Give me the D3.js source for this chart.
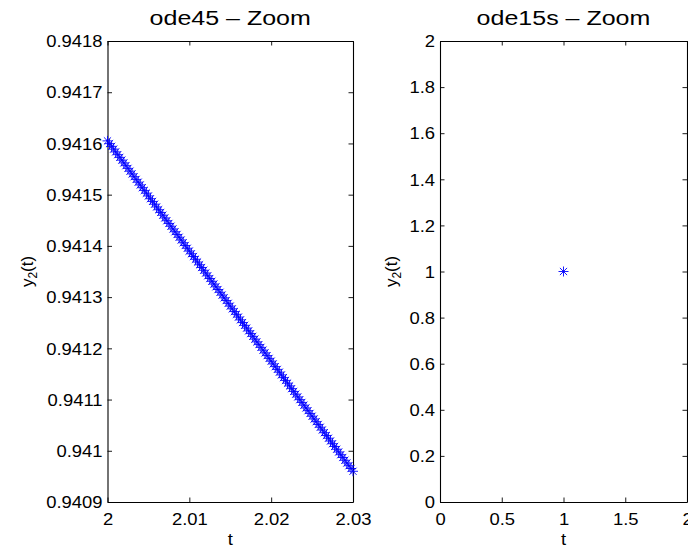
<!DOCTYPE html>
<html>
<head>
<meta charset="utf-8">
<script src="https://cdn.jsdelivr.net/npm/d3@7"></script>
<style>
  body { margin: 0; background: #fff; }
  svg { font-family: "Liberation Sans", Arial, sans-serif; }
</style>
</head>
<body>
<div id="chart"></div>
<script>
// region Data
const t45 = [
    2.00000, 2.00025, 2.00050, 2.00075, 2.00100, 2.00125, 2.00150, 2.00175, 2.00200, 2.00225,
    2.00250, 2.00275, 2.00300, 2.00325, 2.00350, 2.00375, 2.00400, 2.00425, 2.00450, 2.00475,
    2.00500, 2.00525, 2.00550, 2.00575, 2.00600, 2.00625, 2.00650, 2.00675, 2.00700, 2.00725,
    2.00750, 2.00775, 2.00800, 2.00825, 2.00850, 2.00875, 2.00900, 2.00925, 2.00950, 2.00975,
    2.01000, 2.01025, 2.01050, 2.01075, 2.01100, 2.01125, 2.01150, 2.01175, 2.01200, 2.01225,
    2.01250, 2.01275, 2.01300, 2.01325, 2.01350, 2.01375, 2.01400, 2.01425, 2.01450, 2.01475,
    2.01500, 2.01525, 2.01550, 2.01575, 2.01600, 2.01625, 2.01650, 2.01675, 2.01700, 2.01725,
    2.01750, 2.01775, 2.01800, 2.01825, 2.01850, 2.01875, 2.01900, 2.01925, 2.01950, 2.01975,
    2.02000, 2.02025, 2.02050, 2.02075, 2.02100, 2.02125, 2.02150, 2.02175, 2.02200, 2.02225,
    2.02250, 2.02275, 2.02300, 2.02325, 2.02350, 2.02375, 2.02400, 2.02425, 2.02450, 2.02475,
    2.02500, 2.02525, 2.02550, 2.02575, 2.02600, 2.02625, 2.02650, 2.02675, 2.02700, 2.02725,
    2.02750, 2.02775, 2.02800, 2.02825, 2.02850, 2.02875, 2.02900, 2.02925, 2.02950, 2.02975,
    2.03000
];
const y45 = [
    0.9416050, 0.9415996, 0.9415943, 0.9415889, 0.9415835, 0.9415781, 0.9415728, 0.9415674, 0.9415620, 0.9415566,
    0.9415513, 0.9415459, 0.9415405, 0.9415351, 0.9415298, 0.9415244, 0.9415190, 0.9415136, 0.9415083, 0.9415029,
    0.9414975, 0.9414921, 0.9414868, 0.9414814, 0.9414760, 0.9414706, 0.9414653, 0.9414599, 0.9414545, 0.9414491,
    0.9414438, 0.9414384, 0.9414330, 0.9414276, 0.9414223, 0.9414169, 0.9414115, 0.9414061, 0.9414008, 0.9413954,
    0.9413900, 0.9413846, 0.9413793, 0.9413739, 0.9413685, 0.9413631, 0.9413578, 0.9413524, 0.9413470, 0.9413416,
    0.9413363, 0.9413309, 0.9413255, 0.9413201, 0.9413148, 0.9413094, 0.9413040, 0.9412986, 0.9412933, 0.9412879,
    0.9412825, 0.9412771, 0.9412718, 0.9412664, 0.9412610, 0.9412556, 0.9412503, 0.9412449, 0.9412395, 0.9412341,
    0.9412288, 0.9412234, 0.9412180, 0.9412126, 0.9412073, 0.9412019, 0.9411965, 0.9411911, 0.9411858, 0.9411804,
    0.9411750, 0.9411696, 0.9411643, 0.9411589, 0.9411535, 0.9411481, 0.9411428, 0.9411374, 0.9411320, 0.9411266,
    0.9411213, 0.9411159, 0.9411105, 0.9411051, 0.9410998, 0.9410944, 0.9410890, 0.9410836, 0.9410783, 0.9410729,
    0.9410675, 0.9410621, 0.9410568, 0.9410514, 0.9410460, 0.9410406, 0.9410353, 0.9410299, 0.9410245, 0.9410191,
    0.9410138, 0.9410084, 0.9410030, 0.9409976, 0.9409923, 0.9409869, 0.9409815, 0.9409761, 0.9409708, 0.9409654,
    0.9409600
];
const t15s = [1];
const y15s = [1];

const xTicks45 = [2, 2.01, 2.02, 2.03];
const xLabels45 = ['2', '2.01', '2.02', '2.03'];
const yTicks45 = [0.9409, 0.941, 0.9411, 0.9412, 0.9413, 0.9414, 0.9415, 0.9416, 0.9417, 0.9418];
const yLabels45 = ['0.9409', '0.941', '0.9411', '0.9412', '0.9413', '0.9414', '0.9415', '0.9416', '0.9417', '0.9418'];
const xTicks15s = [0, 0.5, 1, 1.5, 2];
const xLabels15s = ['0', '0.5', '1', '1.5', '2'];
const yTicks15s = [0, 0.2, 0.4, 0.6, 0.8, 1, 1.2, 1.4, 1.6, 1.8, 2];
const yLabels15s = ['0', '0.2', '0.4', '0.6', '0.8', '1', '1.2', '1.4', '1.6', '1.8', '2'];
// endregion

const w = 688, h = 547;
const svg = d3.select('#chart')
    .append('svg')
    .attr('width', w)
    .attr('height', h);

// the reference font renders wider than Liberation Sans, so stretch glyphs a bit
function widen(sel, f) {
    sel.each(function () {
        const len = this.getComputedTextLength();
        if (len > 0) {
            d3.select(this)
                .attr('textLength', len * f)
                .attr('lengthAdjust', 'spacingAndGlyphs');
        }
    });
}

function drawPanel(p) {
    const x = d3.scaleLinear().domain(p.xDomain).range([p.left, p.right]);
    const y = d3.scaleLinear().domain(p.yDomain).range([p.bottom, p.top]);
    const g = svg.append('g');
    const tl = 4.5;

    const bottom = g.append('g')
        .attr('transform', `translate(0,${p.bottom})`)
        .call(d3.axisBottom(x).tickValues(p.xTicks).tickFormat((d, i) => p.xLabels[i])
            .tickSizeInner(-tl).tickSizeOuter(0));
    const top = g.append('g')
        .attr('transform', `translate(0,${p.top})`)
        .call(d3.axisTop(x).tickValues(p.xTicks).tickFormat('').tickSizeInner(-tl).tickSizeOuter(0));
    const left = g.append('g')
        .attr('transform', `translate(${p.left},0)`)
        .call(d3.axisLeft(y).tickValues(p.yTicks).tickFormat((d, i) => p.yLabels[i])
            .tickSizeInner(-tl).tickSizeOuter(0).tickPadding(5));
    const right = g.append('g')
        .attr('transform', `translate(${p.right},0)`)
        .call(d3.axisRight(y).tickValues(p.yTicks).tickFormat('').tickSizeInner(-tl).tickSizeOuter(0));

    [bottom, top, left, right].forEach(a => {
        a.select('.domain').attr('stroke', '#000').attr('stroke-width', 1.1);
        a.selectAll('.tick line').attr('stroke', '#000').attr('stroke-width', 0.9);
        a.selectAll('text').attr('font-size', 16).attr('fill', '#000')
            .attr('font-family', '"Liberation Sans", Arial, sans-serif');
    });
    bottom.selectAll('text').attr('y', 23).attr('dy', 0);
    left.selectAll('text').attr('dy', '0.36em');
    widen(bottom.selectAll('text'), 1.15);
    widen(left.selectAll('text'), 1.15);

    // star markers (plus + cross)
    const s = 5;
    const pts = p.tx.map((d, i) => ({t: d, v: p.ty[i]}));
    const stars = g.append('g').attr('stroke', '#0000ff').attr('stroke-width', 0.9).attr('fill', 'none');
    stars.selectAll('path')
        .data(pts).enter()
        .append('path')
        .attr('d', d => {
            const cx = x(d.t), cy = y(d.v), k = s * 0.72;
            return `M${cx - s},${cy}H${cx + s}M${cx},${cy - s}V${cy + s}` +
                `M${cx - k},${cy - k}L${cx + k},${cy + k}M${cx - k},${cy + k}L${cx + k},${cy - k}`;
        });

    // title and labels
    const cx = (p.left + p.right) / 2;
    const title = g.append('text')
        .attr('x', cx).attr('y', 25)
        .attr('text-anchor', 'middle')
        .attr('font-size', 20)
        .text(p.title);
    widen(title, 1.25);
    const xl = g.append('text')
        .attr('x', cx).attr('y', 545)
        .attr('text-anchor', 'middle')
        .attr('font-size', 16)
        .text('t');
    widen(xl, 1.15);
    const yl = g.append('text')
        .attr('transform', `translate(${p.ylabelX},${(p.top + p.bottom) / 2}) rotate(-90)`)
        .attr('text-anchor', 'middle')
        .attr('font-size', 17);
    yl.append('tspan').text('y');
    yl.append('tspan').attr('font-size', 12).attr('dy', 4).text('2');
    yl.append('tspan').attr('dy', -4).text('(t)');
}

drawPanel({
    left: 107.5, right: 353, top: 41, bottom: 502,
    xDomain: [2, 2.03], yDomain: [0.9409, 0.9418],
    xTicks: xTicks45, xLabels: xLabels45,
    yTicks: yTicks45, yLabels: yLabels45,
    tx: t45, ty: y45,
    title: 'ode45 \u2013 Zoom', ylabelX: 33
});

drawPanel({
    left: 440, right: 687, top: 41, bottom: 502,
    xDomain: [0, 2], yDomain: [0, 2],
    xTicks: xTicks15s, xLabels: xLabels15s,
    yTicks: yTicks15s, yLabels: yLabels15s,
    tx: t15s, ty: y15s,
    title: 'ode15s \u2013 Zoom', ylabelX: 397
});
</script>
</body>
</html>
